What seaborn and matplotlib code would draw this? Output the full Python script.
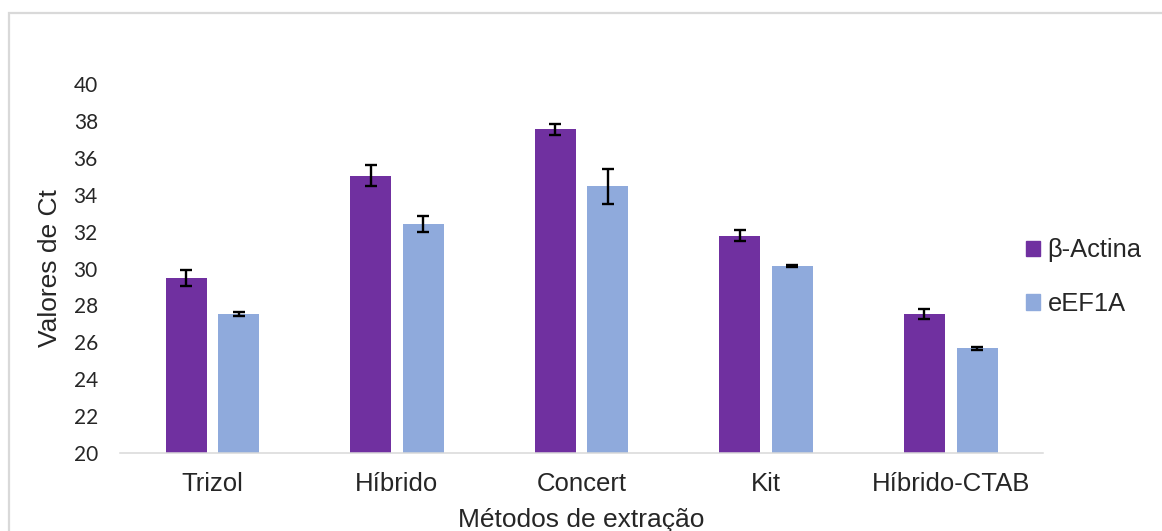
import matplotlib.pyplot as plt
import matplotlib.patches as mpatches
import seaborn as sns
import pandas as pd

# Data
methods = ["Trizol", "Híbrido", "Concert", "Kit", "Híbrido-CTAB"]
genes = ["β-Actina", "eEF1A"]
actina = [29.50, 35.03, 37.54, 31.78, 27.53]
actina_err = [0.43, 0.58, 0.29, 0.29, 0.28]
eef1a = [27.52, 32.40, 34.45, 30.14, 25.67]
eef1a_err = [0.12, 0.43, 0.94, 0.06, 0.08]

colors = ["#7030A0", "#8FAADC"]

df = pd.DataFrame({
    "Método": methods * 2,
    "Gene": [genes[0]] * 5 + [genes[1]] * 5,
    "Ct": actina + eef1a,
    "err": actina_err + eef1a_err,
})

sns.set_style("white")
plt.rcParams["font.family"] = ["Liberation Sans", "DejaVu Sans"]

fig = plt.figure(figsize=(11.62, 5.31), dpi=100)
ax = fig.add_axes([0.1033, 0.1469, 0.7943, 0.6949])

sns.barplot(data=df, x="Método", y="Ct", hue="Gene", hue_order=genes,
            order=methods, palette=colors, saturation=1, width=0.57, gap=0.22,
            errorbar=None, edgecolor="none", ax=ax)

# Error bars placed on the bar centres from the drawn patches
for gi, gene in enumerate(genes):
    cont = ax.containers[gi]
    sub = df[df["Gene"] == gene]
    xs = [p.get_x() + p.get_width() / 2 for p in cont.patches]
    ax.errorbar(xs, sub["Ct"].values, yerr=sub["err"].values, fmt="none",
                ecolor="black", elinewidth=1.7, capsize=4.3, capthick=1.7,
                zorder=5)

ax.set_ylim(20, 40)
ax.set_yticks(range(20, 41, 2))
ax.set_xlim(-0.5, 4.5)

for s in ["top", "right", "left"]:
    ax.spines[s].set_visible(False)
ax.spines["bottom"].set_color("#D9D9D9")
ax.spines["bottom"].set_linewidth(1.1)

ax.tick_params(axis="x", length=0, pad=14, labelsize=18.5)
ax.tick_params(axis="y", length=0, pad=16)
for lab in ax.get_yticklabels():
    lab.set_family(["Lato", "DejaVu Sans"])
    lab.set_fontsize(15)

ax.set_xlabel("Métodos de extração", fontsize=19, labelpad=8)
ax.set_ylabel("Valores de Ct", fontsize=19, labelpad=8)

handles = [mpatches.Patch(color=c, label=g) for c, g in zip(colors, genes)]
ax.legend(handles=handles, loc="center left", bbox_to_anchor=(0.874, 0.478),
          bbox_transform=fig.transFigure, frameon=False, fontsize=18.4,
          handlelength=0.55, handleheight=0.55, handletextpad=0.3,
          labelspacing=1.15, borderaxespad=0)

# Light grey chart frame
fig.patches.append(mpatches.Rectangle((8.5 / 1162, -0.1), 1.2, 1.1 - 13.5 / 531,
                                      transform=fig.transFigure, fill=False,
                                      edgecolor="#D9D9D9", linewidth=1.6))

fig.savefig("out.png", dpi=100)
